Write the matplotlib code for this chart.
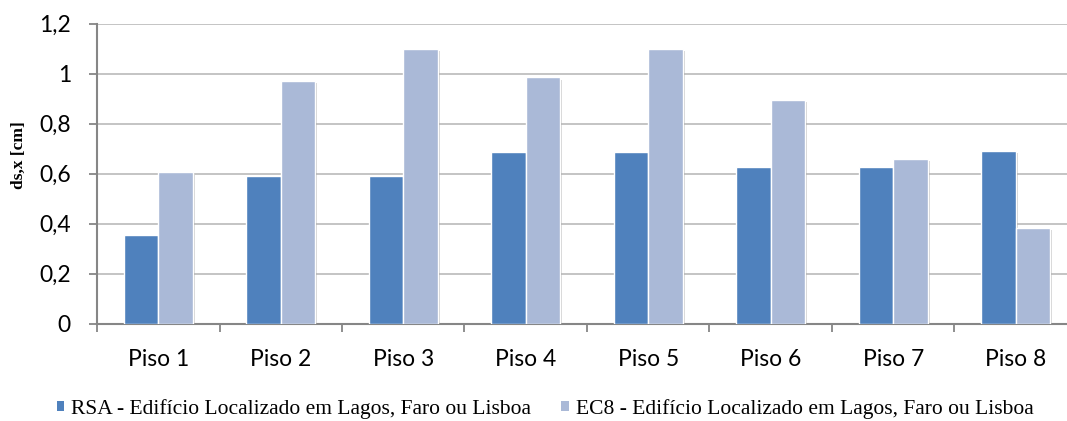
import matplotlib
matplotlib.use("Agg")
import matplotlib.pyplot as plt
from matplotlib.patches import Patch
from matplotlib.ticker import FixedLocator, FuncFormatter
import matplotlib.patheffects as pe
import numpy as np

# -------------------------------------------------------
# DATA
# -------------------------------------------------------
floors = ["Piso 1", "Piso 2", "Piso 3", "Piso 4", "Piso 5", "Piso 6", "Piso 7", "Piso 8"]
rsa_values = [0.355, 0.59, 0.59, 0.686, 0.686, 0.628, 0.628, 0.69]
ec8_values = [0.605, 0.97, 1.098, 0.985, 1.098, 0.895, 0.66, 0.384]
series_names = [
    "RSA - Edifício Localizado em Lagos, Faro ou Lisboa",
    "EC8 - Edifício Localizado em Lagos, Faro ou Lisboa",
]
y_ticks = [0, 0.2, 0.4, 0.6, 0.8, 1.0, 1.2]

rsa_color = "#4F81BD"
ec8_color = "#AAB9D7"
grid_color = "#BFBFBF"
axis_color = "#868686"

# -------------------------------------------------------
# FIGURE
# -------------------------------------------------------
W, H = 1067, 421
fig = plt.figure(figsize=(W / 100, H / 100), dpi=100)

# axes extends slightly past the right border (like the original Excel export)
ax = fig.add_axes([97 / W, (H - 323.7) / H, 980 / W, 300 / H])

x = np.arange(len(floors))
bar_w = 0.28
shadow = [pe.SimplePatchShadow(offset=(1.5, -1.5), shadow_rgbFace="#808080", alpha=0.35), pe.Normal()]

bars1 = ax.bar(x - 0.142, rsa_values, bar_w, color=rsa_color, edgecolor="white", linewidth=1.0, zorder=3)
bars2 = ax.bar(x + 0.142, ec8_values, bar_w, color=ec8_color, edgecolor="white", linewidth=1.0, zorder=3)
for b in list(bars1) + list(bars2):
    b.set_path_effects(shadow)

# -------------------------------------------------------
# AXES STYLE
# -------------------------------------------------------
ax.set_xlim(-0.5, len(floors) - 0.5)
ax.set_ylim(0, 1.2)

ax.set_yticks(y_ticks)
ax.yaxis.set_major_formatter(FuncFormatter(lambda v, p: f"{v:g}".replace(".", ",")))
ax.yaxis.grid(True, color=grid_color, linewidth=1.3, zorder=0)
ax.set_axisbelow(True)

ax.set_xticks(x)
ax.set_xticklabels(floors)
ax.xaxis.set_minor_locator(FixedLocator(np.arange(-0.5, len(floors), 1.0)))
ax.tick_params(axis="x", which="major", length=0, pad=18, labelsize=16.5)
ax.tick_params(axis="x", which="minor", length=5.5, width=1.3, color=axis_color, direction="out")
ax.tick_params(axis="y", length=5.8, width=1.3, color=axis_color, pad=13, labelsize=16.5)

for lab in ax.get_xticklabels() + ax.get_yticklabels():
    lab.set_fontfamily("Lato")

for side in ["top", "right"]:
    ax.spines[side].set_visible(False)
for side in ["left", "bottom"]:
    ax.spines[side].set_color(axis_color)
    ax.spines[side].set_linewidth(1.5)

# y label
fig.text(19 / W, 1 - 155 / H, "ds,x [cm]", rotation=90, ha="center", va="center",
         fontsize=12.5, fontweight="bold", fontfamily="Liberation Serif")

# -------------------------------------------------------
# LEGEND
# -------------------------------------------------------
handles = [Patch(facecolor=rsa_color, edgecolor="none"), Patch(facecolor=ec8_color, edgecolor="none")]
fig.legend(handles, series_names, loc="center", bbox_to_anchor=(545 / W, 1 - 409 / H), ncol=2,
           frameon=False, handlelength=0.34, handleheight=0.34, handletextpad=0.33,
           columnspacing=1.4, prop={"family": "Liberation Serif", "size": 15.5})

plt.savefig("out.png", dpi=100)
